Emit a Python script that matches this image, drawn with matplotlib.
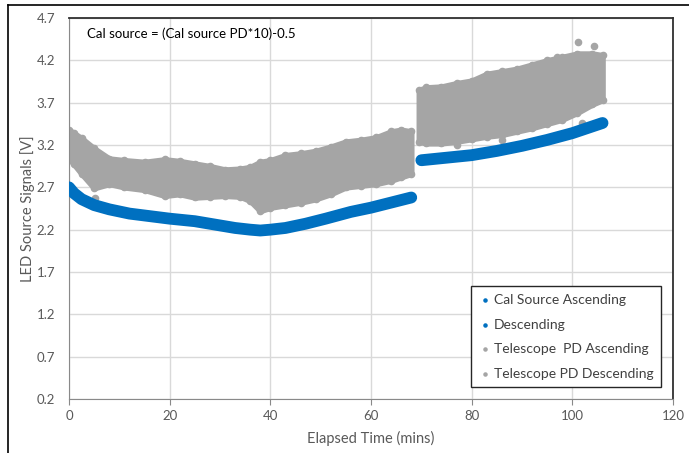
import matplotlib
matplotlib.use("Agg")
import matplotlib.pyplot as plt
from matplotlib.lines import Line2D

# Cal source (blue) band centre
cal_t_asc = [0, 1, 2.5, 5, 8, 12, 16, 20, 25, 30, 33, 36, 38, 40, 43, 47, 51, 56, 60, 64, 68]
cal_v_asc = [2.70, 2.63, 2.56, 2.49, 2.44, 2.39, 2.36, 2.33, 2.30, 2.25, 2.22, 2.20, 2.19,
             2.20, 2.22, 2.27, 2.33, 2.41, 2.46, 2.52, 2.58]
cal_t_desc = [70, 75, 80, 85, 90, 95, 100, 106]
cal_v_desc = [3.02, 3.05, 3.08, 3.13, 3.19, 3.26, 3.34, 3.46]

# Telescope PD (grey) band, upper and lower edge
pd_t_asc = [0, 1, 2.5, 5, 8, 11, 15, 19, 22, 25, 28, 31, 34, 36, 38, 40, 43, 46, 49, 52,
            55, 58, 61, 64, 66, 68]
pd_hi_asc = [3.38, 3.34, 3.28, 3.16, 3.04, 3.02, 3.00, 3.03, 3.01, 2.98, 2.95, 2.91, 2.92,
             2.94, 3.00, 3.02, 3.08, 3.10, 3.13, 3.18, 3.24, 3.26, 3.29, 3.36, 3.38, 3.36]
pd_lo_asc = [3.04, 2.97, 2.86, 2.69, 2.74, 2.70, 2.67, 2.60, 2.62, 2.58, 2.59, 2.60, 2.59,
             2.54, 2.42, 2.46, 2.49, 2.52, 2.56, 2.62, 2.70, 2.72, 2.74, 2.78, 2.82, 2.86]
pd_t_desc = [69.5, 71, 74, 77, 80, 83, 86, 89, 92, 95, 98, 101, 104, 106]
pd_hi_desc = [3.85, 3.88, 3.89, 3.93, 3.96, 4.04, 4.07, 4.10, 4.15, 4.20, 4.24, 4.28, 4.28, 4.26]
pd_lo_desc = [3.24, 3.22, 3.22, 3.24, 3.27, 3.30, 3.32, 3.36, 3.40, 3.45, 3.50, 3.58, 3.68, 3.73]
pd_out_t = [5.2, 77, 86, 97, 101.2, 102, 104.4]
pd_out_v = [2.57, 3.20, 3.26, 4.24, 4.42, 3.46, 4.37]

BLUE = "#0070C0"
GREY = "#A5A5A5"
TXT = "#595959"

plt.rcParams["font.family"] = ["Lato", "DejaVu Sans"]

fig = plt.figure(figsize=(6.89, 4.53), dpi=100)
ax = fig.add_axes([69 / 689, 1 - 399 / 453, 604 / 689, 381 / 453])

# grey telescope PD bands
for t, lo, hi, lab in [(pd_t_asc, pd_lo_asc, pd_hi_asc, "Telescope  PD Ascending"),
                       (pd_t_desc, pd_lo_desc, pd_hi_desc, "Telescope PD Descending")]:
    ax.fill_between(t, lo, hi, color=GREY, lw=4, edgecolor=GREY, joinstyle="round", zorder=2)
    ax.scatter(t, hi, s=20, color=GREY, zorder=2)
    ax.scatter(t, lo, s=20, color=GREY, zorder=2, label=lab)
ax.scatter(pd_out_t, pd_out_v, s=20, color=GREY, zorder=2)

# blue cal source bands
for t, v, lab in [(cal_t_asc, cal_v_asc, "Cal Source Ascending"),
                  (cal_t_desc, cal_v_desc, "Descending")]:
    ax.plot(t, v, color=BLUE, lw=8.5, solid_capstyle="round", solid_joinstyle="round", zorder=3)
    ax.scatter(t, v, s=20, color=BLUE, zorder=3, label=lab)

ax.set_xlim(0, 120)
ax.set_ylim(0.2, 4.7)
ax.set_xticks(range(0, 121, 20))
ax.set_yticks([0.2 + 0.5 * i for i in range(10)])
ax.set_yticklabels([f"{0.2 + 0.5 * i:.1f}" for i in range(10)])
ax.tick_params(axis="y", length=0, pad=10, labelsize=9.5, labelcolor=TXT)
ax.tick_params(axis="x", length=4, color="#898989", pad=4, labelsize=9.5, labelcolor=TXT)
ax.grid(True, color="#D9D9D9", lw=1)
ax.set_axisbelow(True)
for s in ["left", "bottom"]:
    ax.spines[s].set_color("#898989")
for s in ["top", "right"]:
    ax.spines[s].set_color("#303030")
    ax.spines[s].set_linewidth(1.3)

ax.set_xlabel("Elapsed Time (mins)", fontsize=10.5, color=TXT, labelpad=6)
ax.set_ylabel("LED Source Signals [V]", fontsize=10.5, color=TXT, labelpad=1)
ax.text(0.03, 0.96, "Cal source = (Cal source PD*10)-0.5", transform=ax.transAxes,
        fontsize=9.5, color="black", va="center")

h, l = ax.get_legend_handles_labels()
order = [2, 3, 0, 1]
leg = ax.legend([h[i] for i in order], [l[i] for i in order], loc="lower right",
                bbox_to_anchor=(0.98, 0.031), borderaxespad=0, fontsize=10, markerscale=0.5,
                handletextpad=0.1, handlelength=1.0, labelspacing=0.9,
                fancybox=False, framealpha=1, edgecolor="#262626", borderpad=0.55)
leg.get_frame().set_linewidth(1.0)
for txt in leg.get_texts():
    txt.set_color("#404040")

# outer chart border
fig.add_artist(Line2D([8 / 689, 8 / 689], [0, 1 - 5 / 453], color="black", lw=1.2))
fig.add_artist(Line2D([8 / 689, 1], [1 - 5 / 453, 1 - 5 / 453], color="black", lw=1.2))

fig.savefig("out.png", dpi=100)
